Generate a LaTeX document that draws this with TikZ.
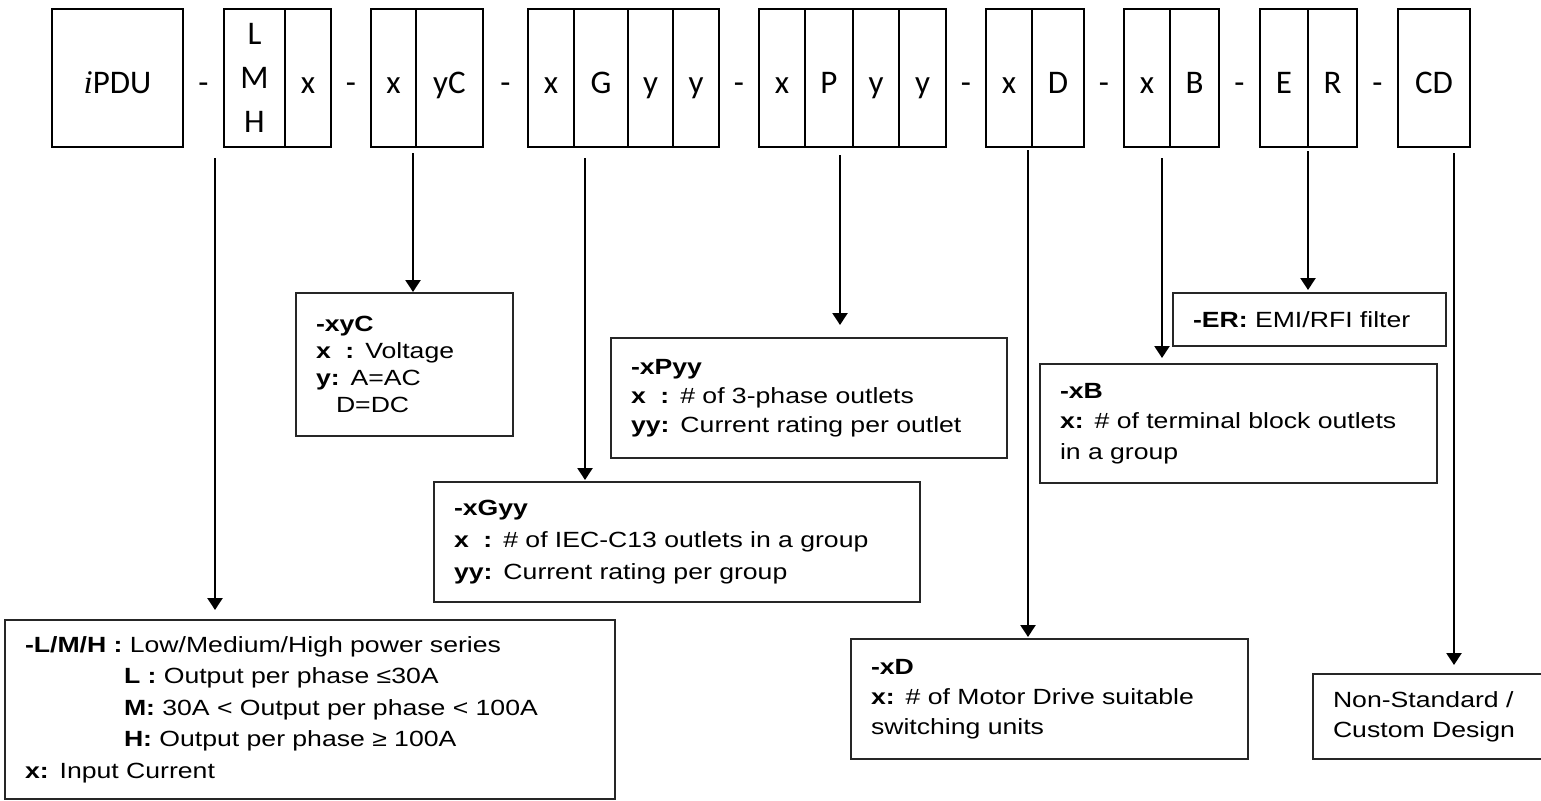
\documentclass[tikz,border=0pt]{standalone}
\usepackage{fontspec}
\setmainfont{Carlito}
\newfontfamily\descfont[FakeStretch=1.21]{Liberation Sans}
\newfontfamily\ifont{Liberation Serif}
\usetikzlibrary{arrows.meta}

\begin{document}
\begin{tikzpicture}[x=1pt,y=-1pt,
        cell/.style={draw,line width=2pt,inner sep=0pt,outer sep=0pt,minimum height=138pt,anchor=north west,font=\fontsize{33}{44}\selectfont},
        code/.style={cell,text height=30pt,text depth=0pt},
        sep/.style={anchor=base,font=\fontsize{33}{44}\selectfont},
        desc/.style={draw=black!85,line width=1.2pt,inner xsep=20pt,inner ysep=0pt,outer sep=0pt,anchor=north west,align=left,font=\descfont\fontsize{22}{#1}\selectfont},
        desc/.default=30pt,
        pointer/.style={line width=2.4pt,-{Triangle[length=12pt,width=15pt]}}]
            \useasboundingbox (0,0) rectangle (1541,800);
            \node[code,minimum width=131pt] (ipdu) at (52,9) {{\ifont\itshape i}PDU};
            \node[cell,minimum width=61pt,align=center] (lmh) at (224,9) {L\\M\\H};
            \node[code,minimum width=46pt] (lx) at (lmh.north east) {x};
            \node[code,minimum width=45pt] (vx) at (371,9) {x};
            \node[code,minimum width=67pt] (vy) at (vx.north east) {yC};
            \node[code,minimum width=46pt] (g1) at (528,9) {x};
            \node[code,minimum width=54pt] (g2) at (g1.north east) {G};
            \node[code,minimum width=45pt] (g3) at (g2.north east) {y};
            \node[code,minimum width=46pt] (g4) at (g3.north east) {y};
            \node[code,minimum width=46pt] (p1) at (759,9) {x};
            \node[code,minimum width=48pt] (p2) at (p1.north east) {P};
            \node[code,minimum width=46pt] (p3) at (p2.north east) {y};
            \node[code,minimum width=47pt] (p4) at (p3.north east) {y};
            \node[code,minimum width=46pt] (m1) at (986,9) {x};
            \node[code,minimum width=52pt] (m2) at (m1.north east) {D};
            \node[code,minimum width=46pt] (t1) at (1124,9) {x};
            \node[code,minimum width=49pt] (t2) at (t1.north east) {B};
            \node[code,minimum width=48pt] (e1) at (1260,9) {E};
            \node[code,minimum width=49pt] (e2) at (e1.north east) {R};
            \node[code,minimum width=72pt] (cd) at (1398,9) {CD};
            \node[sep] (s1) at (203.5,93) {-};
            \node[sep] (s2) at (351,93) {-};
            \node[sep] (s3) at (505.5,93) {-};
            \node[sep] (s4) at (739,93) {-};
            \node[sep] (s5) at (966,93) {-};
            \node[sep] (s6) at (1104,93) {-};
            \node[sep] (s7) at (1239.5,93) {-};
            \node[sep] (s8) at (1377.5,93) {-};

            \node[desc=27pt,minimum width=217pt,minimum height=143pt,text width=177pt] (vbox) at (296,293)
                {\textbf{-xyC}\\\textbf{x\ \ :} Voltage\\\textbf{y:} A=AC\\\hspace*{20pt}D=DC};
            \node[desc=29pt,minimum width=396pt,minimum height=120pt,text width=356pt] (pbox) at (611,338)
                {\textbf{-xPyy}\\\textbf{x\ \ :} \# of 3-phase outlets\\\textbf{yy:} Current rating per outlet};
            \node[desc=32pt,minimum width=486pt,minimum height=120pt,text width=446pt] (gbox) at (434,482)
                {\textbf{-xGyy}\\\textbf{x\ \ :} \# of IEC-C13 outlets in a group\\\textbf{yy:} Current rating per group};
            \node[desc=31.5pt,minimum width=610pt,minimum height=179pt,text width=570pt] (lbox) at (5,620)
                {\textbf{-L/M/H :} Low/Medium/High power series\\
                \hspace*{99pt}\textbf{L :} Output per phase ≤30A\\
                \hspace*{99pt}\textbf{M:} 30A < Output per phase < 100A\\
                \hspace*{99pt}\textbf{H:} Output per phase ≥ 100A\\
                \textbf{x:} Input Current};
            \node[desc,minimum width=273pt,minimum height=53pt,text width=233pt] (ebox) at (1173,293)
                {\textbf{-ER:} EMI/RFI filter};
            \node[desc=30.5pt,minimum width=397pt,minimum height=119pt,text width=357pt] (tbox) at (1040,364)
                {\textbf{-xB}\\\textbf{x:} \# of terminal block outlets\\in a group};
            \node[desc,minimum width=397pt,minimum height=120pt,text width=357pt] (mbox) at (851,639)
                {\textbf{-xD}\\\textbf{x:} \# of Motor Drive suitable\\switching units};
            \node[desc,minimum width=235pt,minimum height=85pt,text width=195pt] (cbox) at (1313,674)
                {Non-Standard /\\Custom Design};

            \coordinate (a1) at (215,158);
            \coordinate (a2) at (413,153);
            \coordinate (a3) at (585,158);
            \coordinate (a4) at (840,155);
            \coordinate (a5) at (1028,150);
            \coordinate (a6) at (1162,158);
            \coordinate (a7) at (1308,151);
            \coordinate (a8) at (1454,153);
            \draw[pointer,shorten >=10pt] (a1) -- (a1 |- lbox.north);
            \draw[pointer,shorten >=1pt] (a2) -- (a2 |- vbox.north);
            \draw[pointer,shorten >=2pt] (a3) -- (a3 |- gbox.north);
            \draw[pointer,shorten >=13pt] (a4) -- (a4 |- pbox.north);
            \draw[pointer,shorten >=2pt] (a5) -- (a5 |- mbox.north);
            \draw[pointer,shorten >=6pt] (a6) -- (a6 |- tbox.north);
            \draw[pointer,shorten >=3pt] (a7) -- (a7 |- ebox.north);
            \draw[pointer,shorten >=9pt] (a8) -- (a8 |- cbox.north);
\end{tikzpicture}
\end{document}
